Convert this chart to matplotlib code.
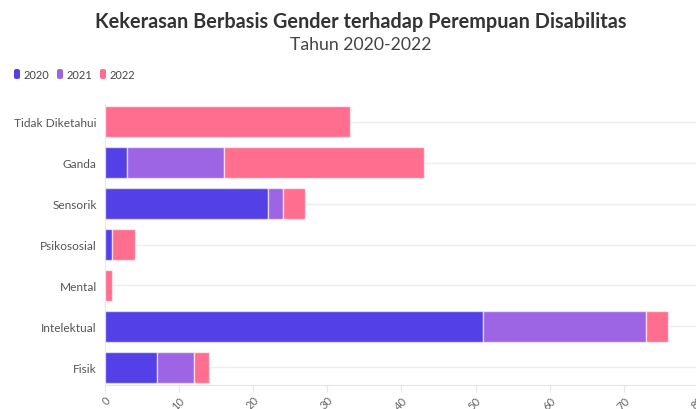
import matplotlib
matplotlib.use("Agg")
import matplotlib.pyplot as plt
from matplotlib.patches import FancyBboxPatch
import numpy as np

categories = ["Tidak Diketahui", "Ganda", "Sensorik", "Psikososial", "Mental", "Intelektual", "Fisik"]
years = ["2020", "2021", "2022"]
v2020 = [0, 3, 22, 1, 0, 51, 7]
v2021 = [0, 13, 2, 0, 0, 22, 5]
v2022 = [33, 27, 3, 3, 1, 3, 2]
colors = ["#5340e6", "#9d65e3", "#ff6e8e"]
xticks = [0, 10, 20, 30, 40, 50, 60, 70, 80]

plt.rcParams['font.family'] = ['Lato', 'DejaVu Sans']

fig = plt.figure(figsize=(6.96, 4.10), dpi=100)
W, H = 696, 410
left, right, top, bottom = 105, 698, 105, 386
ax = fig.add_axes([left / W, 1 - bottom / H, (right - left) / W, (bottom - top) / H])

n = len(categories)
ypos = np.arange(n)[::-1]
series = [v2020, v2021, v2022]
base = np.zeros(n)
for vals, c in zip(series, colors):
    vals = np.array(vals, dtype=float)
    mask = vals > 0
    ax.barh(ypos[mask], vals[mask], left=base[mask], height=0.75, color=c,
            edgecolor=(1, 1, 1, 0.6), linewidth=1.0, zorder=3)
    base += vals

ax.set_xlim(0, 80)
ax.set_ylim(-0.43, n - 1 + 0.43)
ax.set_yticks(ypos)
ax.set_yticklabels(categories, fontsize=8.6, color="#555555")
ax.tick_params(axis='y', length=0, pad=6)
ax.set_xticks(xticks)
ax.set_xticklabels([str(t) for t in xticks], fontsize=8, color="#666666",
                   rotation=45, ha='right', va='top', rotation_mode='anchor')
ax.tick_params(axis='x', length=5, color="#e6e6e6", pad=1.5)

for s in ['top', 'right']:
    ax.spines[s].set_visible(False)
ax.spines['left'].set_color("#e6e6e6")
ax.spines['bottom'].set_color("#e6e6e6")
for y in ypos:
    ax.axhline(y, color="#eeeeee", linewidth=1, zorder=1)

fig.text(361 / W, 1 - 22 / H, "Kekerasan Berbasis Gender terhadap Perempuan Disabilitas",
         ha='center', va='center', fontsize=14.3, fontweight='bold', color="#333333")
fig.text(361 / W, 1 - 45 / H, "Tahun 2020-2022", ha='center', va='center',
         fontsize=12.7, color="#444444")

# legend
lx = [14, 57, 100]
for x0, c, lab in zip(lx, colors, years):
    p = FancyBboxPatch((x0 / W, 1 - 80 / H), 6 / W, 10 / H,
                       boxstyle="round,pad=0,rounding_size=0.004",
                       transform=fig.transFigure, facecolor=c, edgecolor='none')
    fig.patches.append(p)
    fig.text((x0 + 9.5) / W, 1 - 75.5 / H, lab, ha='left', va='center',
             fontsize=8, color="#444444")

fig.savefig("out.png", dpi=100)
